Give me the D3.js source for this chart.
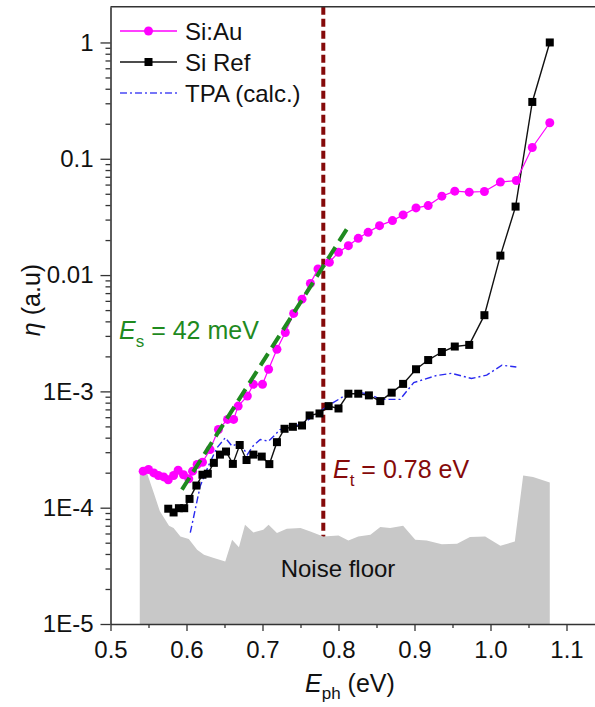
<!DOCTYPE html>
<html>
<head>
<meta charset="utf-8">
<script src="https://cdn.jsdelivr.net/npm/d3@7"></script>
<style>
  body { margin: 0; background: #fff; }
  svg { font-family: Arial, "Liberation Sans", sans-serif; display: block; }
</style>
</head>
<body>
<svg id="chart" width="595" height="707"></svg>
<script>
// Si:Au (magenta circles)
const siAuE = [0.543, 0.550, 0.557, 0.563, 0.570, 0.576, 0.583, 0.589, 0.596, 0.603, 0.608, 0.614, 0.621, 0.631, 0.642, 0.654, 0.662, 0.668, 0.680, 0.688, 0.700, 0.708, 0.719, 0.730, 0.741, 0.752, 0.763, 0.773, 0.788, 0.800, 0.813, 0.826, 0.839, 0.854, 0.871, 0.885, 0.902, 0.918, 0.936, 0.953, 0.972, 0.992, 1.013, 1.034, 1.055, 1.078];
const siAuEta = [2.06e-4, 2.13e-4, 1.99e-4, 1.89e-4, 1.84e-4, 1.74e-4, 1.89e-4, 2.10e-4, 1.92e-4, 1.77e-4, 2.06e-4, 2.35e-4, 2.46e-4, 3.16e-4, 4.70e-4, 5.74e-4, 5.74e-4, 7.47e-4, 9.12e-4, 1.15e-3, 1.15e-3, 1.55e-3, 2.30e-3, 3.21e-3, 4.68e-3, 6.21e-3, 8.48e-3, 1.13e-2, 1.29e-2, 1.57e-2, 1.79e-2, 2.07e-2, 2.33e-2, 2.66e-2, 2.94e-2, 3.29e-2, 3.78e-2, 3.96e-2, 4.77e-2, 5.27e-2, 5.16e-2, 5.23e-2, 6.30e-2, 6.50e-2, 0.125, 0.204];

// Si Ref (black squares)
const siRefE = [0.576, 0.583, 0.590, 0.597, 0.604, 0.613, 0.621, 0.628, 0.636, 0.644, 0.652, 0.661, 0.670, 0.679, 0.688, 0.699, 0.709, 0.719, 0.729, 0.740, 0.752, 0.762, 0.775, 0.787, 0.800, 0.813, 0.826, 0.840, 0.855, 0.870, 0.885, 0.902, 0.918, 0.936, 0.953, 0.972, 0.992, 1.013, 1.033, 1.055, 1.078];
const siRefEta = [9.8e-5, 9.1e-5, 9.9e-5, 9.9e-5, 1.19e-4, 1.55e-4, 1.92e-4, 1.96e-4, 2.43e-4, 2.86e-4, 3.04e-4, 2.38e-4, 3.46e-4, 2.57e-4, 2.86e-4, 2.75e-4, 2.37e-4, 3.66e-4, 4.77e-4, 4.96e-4, 5.09e-4, 6.21e-4, 6.46e-4, 7.47e-4, 7.13e-4, 9.55e-4, 9.55e-4, 9.24e-4, 8.25e-4, 9.75e-4, 1.16e-3, 1.55e-3, 1.86e-3, 2.18e-3, 2.43e-3, 2.51e-3, 4.52e-3, 1.47e-2, 3.88e-2, 0.308, 1.0];

// TPA (calc.)
const tpaE = [0.605, 0.618, 0.629, 0.640, 0.651, 0.660, 0.670, 0.680, 0.688, 0.697, 0.708, 0.717, 0.723, 0.741, 0.758, 0.776, 0.793, 0.811, 0.829, 0.842, 0.855, 0.881, 0.899, 0.929, 0.949, 0.975, 0.995, 1.015, 1.034];
const tpaEta = [6.1e-5, 1.53e-4, 2.30e-4, 3.27e-4, 3.99e-4, 3.38e-4, 3.61e-4, 2.86e-4, 3.42e-4, 3.86e-4, 3.73e-4, 4.26e-4, 4.70e-4, 4.96e-4, 5.55e-4, 6.76e-4, 8.0e-4, 9.42e-4, 9.75e-4, 9.42e-4, 8.53e-4, 8.53e-4, 1.19e-3, 1.37e-3, 1.43e-3, 1.29e-3, 1.38e-3, 1.68e-3, 1.62e-3];

// noise floor
const noiseE = [0.5385, 0.548, 0.557, 0.565, 0.577, 0.583, 0.592, 0.603, 0.614, 0.623, 0.636, 0.651, 0.660, 0.669, 0.677, 0.688, 0.701, 0.708, 0.719, 0.732, 0.750, 0.763, 0.780, 0.800, 0.813, 0.826, 0.842, 0.855, 0.868, 0.885, 0.901, 0.916, 0.936, 0.956, 0.973, 0.993, 1.013, 1.032, 1.043, 1.056, 1.078];
const noiseEta = [2.03e-4, 1.99e-4, 1.34e-4, 9.3e-5, 7.0e-5, 6.68e-5, 5.66e-5, 5.37e-5, 4.35e-5, 3.93e-5, 3.69e-5, 3.44e-5, 5.30e-5, 4.58e-5, 7.14e-5, 6.12e-5, 6.46e-5, 7.14e-5, 6.05e-5, 6.59e-5, 6.68e-5, 6.25e-5, 5.66e-5, 5.77e-5, 5.22e-5, 5.66e-5, 5.85e-5, 6.82e-5, 6.68e-5, 7.0e-5, 5.30e-5, 5.22e-5, 4.86e-5, 4.89e-5, 5.59e-5, 5.66e-5, 4.70e-5, 5.12e-5, 1.89e-4, 1.84e-4, 1.65e-4];

// exponential fit (Es = 42 meV) and threshold
const fitE = [0.594, 0.811];
const fitEta = [1.43e-4, 2.49e-2];
const thresholdE = 0.78;

const xTicks = [0.5, 0.6, 0.7, 0.8, 0.9, 1.0, 1.1];
const xMinor = [0.55, 0.65, 0.75, 0.85, 0.95, 1.05];
const yTicks = [1e-5, 1e-4, 1e-3, 1e-2, 1e-1, 1];
const yTickLabels = ["1E-5", "1E-4", "1E-3", "0.01", "0.1", "1"];
const yMinor = d3.range(-5, 1).flatMap(p => d3.range(2, 10).map(m => m * Math.pow(10, p))).filter(v => v < 2);

const svg = d3.select("#chart");

const x = d3.scaleLinear().domain([0.5, 1.15]).range([110.5, 604.5]);
const y = d3.scaleLog().domain([1e-5, 2.03]).range([624, 6.7]);

const zip = (a, b) => a.map((v, i) => [v, b[i]]);

// threshold line (under the noise floor)
svg.append("line")
    .attr("x1", x(thresholdE)).attr("x2", x(thresholdE))
    .attr("y1", y.range()[1]).attr("y2", y.range()[0])
    .attr("stroke", "#850a0a")
    .attr("stroke-width", 4)
    .attr("stroke-dasharray", "8,4")

// noise floor area
let area = d3.area()
    .x(d => x(d[0]))
    .y0(y(1e-5))
    .y1(d => y(d[1]))

svg.append("path")
    .datum(zip(noiseE, noiseEta))
    .attr("d", area)
    .attr("fill", "#c8c8c8")

svg.append("text")
    .attr("x", 338).attr("y", 577)
    .attr("text-anchor", "middle")
    .attr("font-size", 24)
    .attr("fill", "#111")
    .text("Noise floor")

let line = d3.line().x(d => x(d[0])).y(d => y(d[1]));

// TPA
svg.append("path")
    .datum(zip(tpaE, tpaEta))
    .attr("d", line)
    .attr("fill", "none")
    .attr("stroke", "#2a2af0")
    .attr("stroke-width", 1.4)
    .attr("stroke-dasharray", "7,3,2,3")

// Si Ref
svg.append("path")
    .datum(zip(siRefE, siRefEta))
    .attr("d", line)
    .attr("fill", "none")
    .attr("stroke", "#111")
    .attr("stroke-width", 1.4)

svg.append("g").selectAll("rect")
    .data(zip(siRefE, siRefEta))
    .enter()
    .append("rect")
    .attr("x", d => x(d[0]) - 4)
    .attr("y", d => y(d[1]) - 4)
    .attr("width", 8).attr("height", 8)
    .attr("fill", "#000")

// Si:Au
svg.append("path")
    .datum(zip(siAuE, siAuEta))
    .attr("d", line)
    .attr("fill", "none")
    .attr("stroke", "#ff00ff")
    .attr("stroke-width", 1.2)

svg.append("g").selectAll("circle")
    .data(zip(siAuE, siAuEta))
    .enter()
    .append("circle")
    .attr("cx", d => x(d[0]))
    .attr("cy", d => y(d[1]))
    .attr("r", 4.5)
    .attr("fill", "#ff00ff")

// Es fit line
svg.append("path")
    .datum(zip(fitE, fitEta))
    .attr("d", line)
    .attr("stroke", "#1f8a1f")
    .attr("stroke-width", 4)
    .attr("stroke-dasharray", "14,7")

// annotations
let es = svg.append("text")
    .attr("x", 119).attr("y", 339)
    .attr("font-size", 25)
    .attr("fill", "#1f8a1f")
es.append("tspan").attr("font-style", "italic").text("E")
es.append("tspan").attr("dy", 8).attr("font-size", 17).text("s")
es.append("tspan").attr("dy", -8).text(" = 42 meV")

let et = svg.append("text")
    .attr("x", 333).attr("y", 478)
    .attr("font-size", 25)
    .attr("fill", "#850a0a")
et.append("tspan").attr("font-style", "italic").text("E")
et.append("tspan").attr("dy", 8).attr("font-size", 17).text("t")
et.append("tspan").attr("dy", -8).text(" = 0.78 eV")

// axes
let xAxis = svg.append("g")
    .attr("transform", `translate(0,${y(1e-5)})`)
    .call(d3.axisBottom(x).tickValues(xTicks).tickFormat(d3.format(".1f")).tickSize(7).tickSizeOuter(0).tickPadding(10))

svg.append("g")
    .attr("transform", `translate(0,${y(1e-5)})`)
    .call(d3.axisBottom(x).tickValues(xMinor).tickFormat("").tickSize(4).tickSizeOuter(0))
    .select(".domain").remove()

let yAxis = svg.append("g")
    .attr("transform", `translate(${x(0.5)},0)`)
    .call(d3.axisLeft(y).tickValues(yTicks).tickFormat((d, i) => yTickLabels[i]).tickSize(10).tickSizeOuter(0).tickPadding(7))

svg.append("g")
    .attr("transform", `translate(${x(0.5)},0)`)
    .call(d3.axisLeft(y).tickValues(yMinor).tickFormat("").tickSize(5).tickSizeOuter(0))
    .select(".domain").remove()

svg.selectAll(".tick line").attr("stroke", "#333").attr("stroke-width", 1.3)
svg.selectAll(".domain").attr("stroke", "#333").attr("stroke-width", 1.6)
svg.selectAll(".tick text").attr("font-size", 24).attr("fill", "#111").attr("font-family", "Arial, 'Liberation Sans', sans-serif")

// top frame
svg.append("line")
    .attr("x1", x(0.5)).attr("x2", 595)
    .attr("y1", y.range()[1]).attr("y2", y.range()[1])
    .attr("stroke", "#333").attr("stroke-width", 1.6)

// axis titles
let xt = svg.append("text")
    .attr("x", 305).attr("y", 692)
    .attr("font-size", 25)
    .attr("fill", "#111")
xt.append("tspan").attr("font-style", "italic").text("E")
xt.append("tspan").attr("dy", 7).attr("font-size", 17).text("ph")
xt.append("tspan").attr("dy", -7).text(" (eV)")

let yt = svg.append("text")
    .attr("transform", "translate(40,300) rotate(-90)")
    .attr("text-anchor", "middle")
    .attr("font-size", 25)
    .attr("fill", "#111")
yt.append("tspan").attr("font-style", "italic").text("η")
yt.append("tspan").text(" (a.u)")

// legend
const legendNames = ["Si:Au", "Si Ref", "TPA (calc.)"];
const legendRows = [31, 62, 93];

let legend = svg.append("g")
legendNames.forEach((name, i) => {
    let row = legend.append("g").attr("transform", `translate(0,${legendRows[i]})`)
    let l = row.append("line")
        .attr("x1", 120).attr("x2", 177)
        .attr("stroke-width", 1.4)
    if (i === 0) {
        l.attr("stroke", "#ff00ff")
        row.append("circle").attr("cx", 148.5).attr("r", 4.5).attr("fill", "#ff00ff")
    } else if (i === 1) {
        l.attr("stroke", "#111")
        row.append("rect").attr("x", 144.5).attr("y", -4).attr("width", 8).attr("height", 8).attr("fill", "#000")
    } else {
        l.attr("stroke", "#4a4af5").attr("stroke-dasharray", "7,3,2,3")
    }
    row.append("text")
        .attr("x", 185).attr("y", 9)
        .attr("font-size", 24)
        .attr("fill", "#111")
        .text(name)
})
</script>
</body>
</html>
